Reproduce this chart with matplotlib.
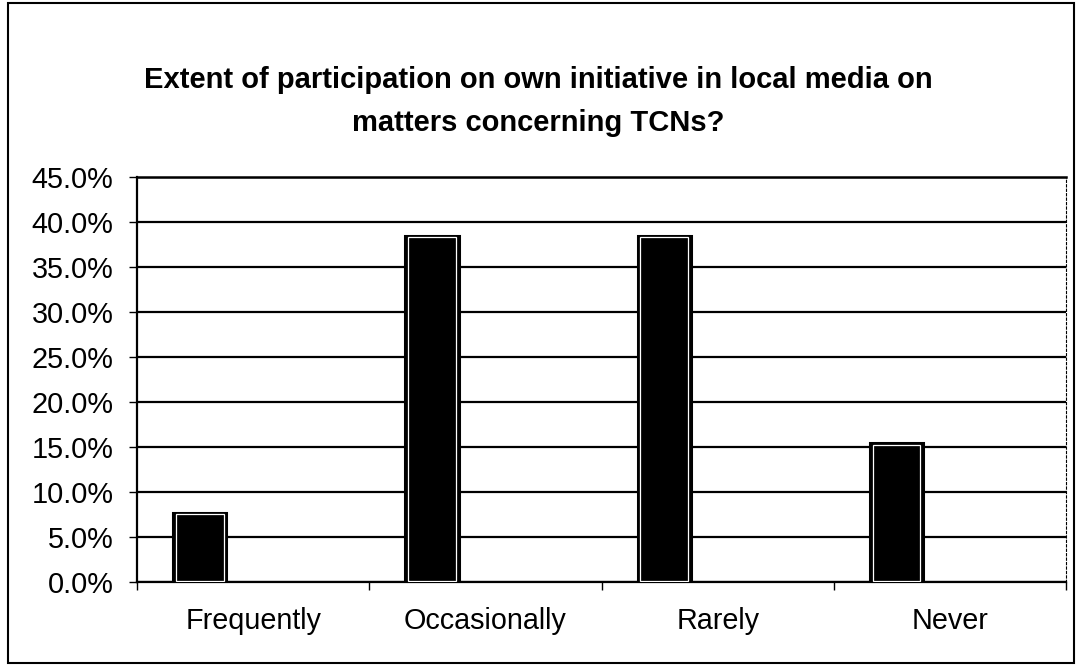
import matplotlib.pyplot as plt
import matplotlib.patches as mpatches
import numpy as np

plt.rcParams['font.family'] = ['Liberation Sans', 'DejaVu Sans']

# data
categories = ["Frequently", "Occasionally", "Rarely", "Never"]
values = [7.7, 38.5, 38.5, 15.4]
yticks = np.arange(0, 45.1, 5)

fig = plt.figure(figsize=[10.77, 6.66], dpi=100)
ax = fig.add_axes([0.1272, 0.1261, 0.8626, 0.6081])

# bars sit in the left part of each category slot (empty second series in the original)
x = np.arange(len(categories))
bar_left = x + 0.155
bar_w = 0.23
ax.bar(bar_left, values, width=bar_w, align="edge", color="black",
       edgecolor="black", linewidth=2.2, zorder=3)
# thin white inner outline
ax.bar(bar_left + 0.012, np.array(values) - 0.25, width=bar_w - 0.024, bottom=0.1,
       align="edge", fill=False, edgecolor="white", linewidth=0.9, zorder=4)

ax.set_xlim(0, len(categories))
ax.set_ylim(0, 45)
ax.set_yticks(yticks)
ax.set_yticklabels([f"{v:.1f}%" for v in yticks])
ax.yaxis.grid(True, color="black", linewidth=1.6, zorder=1)
ax.set_axisbelow(True)

ax.set_xticks(np.arange(len(categories) + 1))
ax.set_xticklabels([])
ax.set_xticks(x + 0.5, minor=True)
ax.set_xticklabels(categories, minor=True)
ax.tick_params(axis="x", which="major", length=6, width=1, direction="out")
ax.tick_params(axis="x", which="minor", length=0, pad=18, labelsize=20.7)
ax.tick_params(axis="y", length=6, width=1, direction="out", pad=11, labelsize=20.8)

for s in ["left", "bottom"]:
    ax.spines[s].set_linewidth(1.6)
ax.spines["top"].set_linewidth(1.8)
ax.spines["right"].set_linewidth(0.8)
ax.spines["right"].set_linestyle((0, (2, 2)))

fig.text(0.5, 0.880, "Extent of participation on own initiative in local media on",
         ha="center", va="center", fontsize=21, fontweight="bold")
fig.text(0.5, 0.815, "matters concerning TCNs?",
         ha="center", va="center", fontsize=21, fontweight="bold")

# outer frame
fig.patches.append(mpatches.Rectangle((0.007, 0.004), 0.99, 0.991, transform=fig.transFigure,
                                      fill=False, edgecolor="black", linewidth=1.5))

fig.savefig("out.png", dpi=100)
